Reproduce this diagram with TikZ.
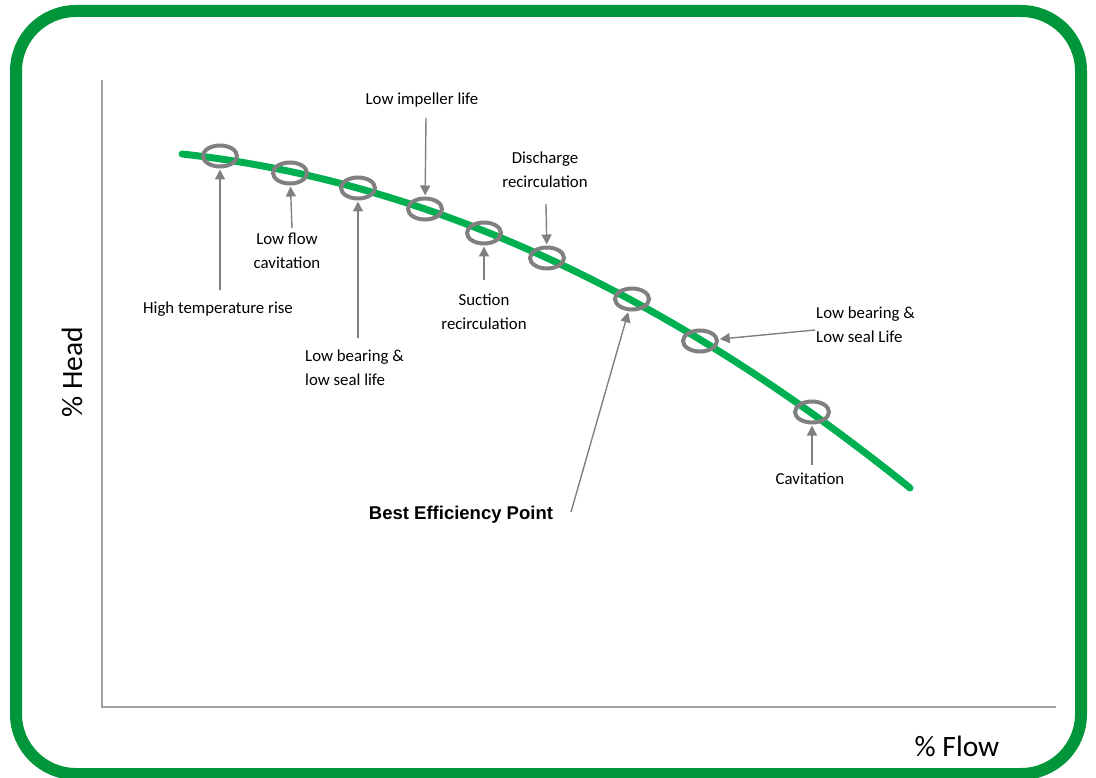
\documentclass[tikz,border=0pt]{standalone}
\usepackage{fontspec}
\setmainfont{Carlito}
\newfontfamily\arialfont{Liberation Sans}
\usetikzlibrary{shapes.geometric,arrows.meta}
\definecolor{framegreen}{RGB}{0,150,57}
\definecolor{curvegreen}{RGB}{0,176,80}
\definecolor{markgray}{RGB}{128,128,128}
\definecolor{axisgray}{RGB}{160,160,160}
\tikzset{
  mark ring/.style={ellipse, draw=markgray, line width=4pt, minimum width=34pt, minimum height=21pt, inner sep=0pt},
  pointer/.style={draw=markgray, line width=1.4pt, -{Triangle[length=10pt,width=10pt]}, shorten >=1pt},
  lbl/.style={font=\fontsize{16.8}{24}\selectfont, inner sep=0pt, text=black},
  axis title/.style={font=\fontsize{29.5}{32}\selectfont, inner sep=0pt}
}
\begin{document}
\begin{tikzpicture}[x=1pt,y=-1pt]
\useasboundingbox (0,0) rectangle (1096,778);
% frame
\draw[framegreen, line width=12pt, rounded corners=60pt] (16,11) rectangle (1081,774);
% axes
\draw[axisgray, line width=1.5pt] (102,80) -- (102,707) -- (1056,707);
% curve
\draw[curvegreen, line width=7pt, line cap=round] plot[domain=182:910, samples=80] (\x, {149.83 - 0.0643*\x + 4.79*(\x/100)^2});
% rings
\node[mark ring] (c1) at (220,156) {};
\node[mark ring] (c2) at (290,173) {};
\node[mark ring] (c3) at (358,188) {};
\node[mark ring] (c4) at (425,209) {};
\node[mark ring] (c5) at (484,233) {};
\node[mark ring] (c6) at (547,258) {};
\node[mark ring] (c7) at (632,299) {};
\node[mark ring] (c8) at (700,341) {};
\node[mark ring] (c9) at (812,412) {};
% labels
\node[lbl] (l1) at (218,309) {High temperature rise};
\node[lbl, align=center] (l2) at (287,251) {Low flow\\cavitation};
\node[lbl, align=left, anchor=west] (l3) at (305,368) {Low bearing \&\\low seal life};
\node[lbl] (l4) at (422,100) {Low impeller life};
\node[lbl, align=center] (l5) at (484,312) {Suction\\recirculation};
\node[lbl, align=center] (l6) at (545,170) {Discharge\\recirculation};
\node[inner sep=0pt, font=\arialfont\bfseries\fontsize{18.5}{22}\selectfont] (l7) at (461,515) {Best Efficiency Point};
\node[lbl, align=left, anchor=west] (l8) at (816,325) {Low bearing \&\\Low seal Life};
\node[lbl] (l9) at (810,479) {Cavitation};
\node[axis title, rotate=90] (yl) at (72,372) {\% Head};
\node[axis title] (xl) at (957,746) {\% Flow};
% arrow tails
\coordinate (a1) at (220,290);
\coordinate (a2) at (292,228);
\coordinate (a3) at (358,338);
\coordinate (a4) at (426,118);
\coordinate (a5) at (484,280);
\coordinate (a6) at (546,204);
\coordinate (a7) at (571,512);
\coordinate (a8) at (815,330);
\coordinate (a9) at (812,465);
\draw[pointer] (a1) -- (c1);
\draw[pointer] (a2) -- (c2);
\draw[pointer] (a3) -- (c3);
\draw[pointer] (a4) -- (c4);
\draw[pointer] (a5) -- (c5);
\draw[pointer] (a6) -- (c6);
\draw[pointer] (a7) -- (c7);
\draw[pointer] (a8) -- (c8);
\draw[pointer] (a9) -- (c9);
\end{tikzpicture}
\end{document}
